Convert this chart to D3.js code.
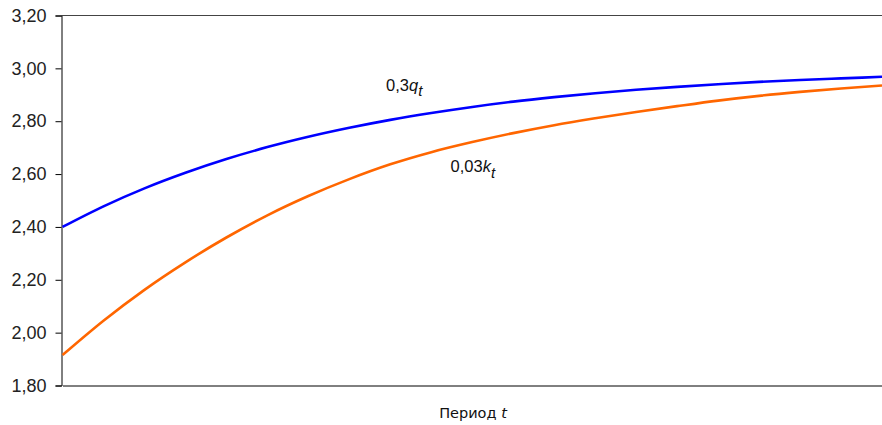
<!DOCTYPE html>
<html><head><meta charset="utf-8">
<script src="https://cdn.jsdelivr.net/npm/d3@7"></script>
<style>body{margin:0;background:#fff}svg{display:block}</style>
</head><body>
<svg id="c" width="882" height="425"></svg>
<script>
const periods = [0,5,10,15,20,25,30,35,40,45,50,55,60,65,70,75,80,85,90,95,100];
const seriesQ = [2.400,2.478,2.546,2.605,2.657,2.702,2.741,2.775,2.805,2.831,2.854,2.874,2.891,2.906,2.919,2.930,2.940,2.949,2.956,2.962,2.968];
const seriesK = [1.915,2.045,2.162,2.266,2.360,2.444,2.517,2.581,2.637,2.683,2.721,2.755,2.785,2.811,2.835,2.857,2.878,2.896,2.911,2.924,2.935];
const yTicks = [1.8,2.0,2.2,2.4,2.6,2.8,3.0,3.2];
const axisTitle = "Период ";

const svg = d3.select("#c");
const m = {l:61.5, r:882, t:15.5, b:385.5};
const x = d3.scaleLinear().domain([0,100]).range([m.l+1, m.r]);
const y = d3.scaleLinear().domain([1.8,3.2]).range([m.b, m.t]);
const fmt = v => d3.format(".2f")(v).replace(".", ",");

// top border
svg.append("line").attr("x1",m.l).attr("x2",m.r).attr("y1",m.t).attr("y2",m.t)
  .attr("stroke","#444").attr("stroke-width",1);

const ya = svg.append("g").attr("transform",`translate(${m.l},0)`)
  .call(d3.axisLeft(y).tickValues(yTicks).tickFormat(fmt).tickSize(6).tickPadding(9));
ya.select(".domain").attr("stroke","#000");
ya.selectAll(".tick line").attr("stroke","#000");
ya.selectAll(".tick text").attr("font-family","Liberation Sans, Arial, sans-serif")
  .attr("font-size","18px").attr("fill","#222");

const xa = svg.append("g").attr("transform",`translate(0,${m.b})`)
  .call(d3.axisBottom(x).tickValues([]).tickSizeOuter(0));
xa.select(".domain").attr("stroke","#000");

const line = d3.line().x((d,i)=>x(periods[i])).y(d=>y(d)).curve(d3.curveMonotoneX);
svg.append("path").datum(seriesK).attr("d",line).attr("fill","none")
  .attr("stroke","#FF6600").attr("stroke-width",2.6);
svg.append("path").datum(seriesQ).attr("d",line).attr("fill","none")
  .attr("stroke","#0000FF").attr("stroke-width",2.6);

const ff = "Liberation Sans, Arial, sans-serif";
const t1 = svg.append("text").attr("x",386).attr("y",90.5).attr("font-family",ff)
  .attr("font-size","16.5px").attr("fill","#111");
t1.append("tspan").text("0,3");
t1.append("tspan").attr("font-style","italic").text("q");
t1.append("tspan").attr("font-style","italic").attr("dy",5).attr("font-size","15px").text("t");

const t2 = svg.append("text").attr("x",450.5).attr("y",171.5).attr("font-family",ff)
  .attr("font-size","16.5px").attr("fill","#111");
t2.append("tspan").text("0,03");
t2.append("tspan").attr("font-style","italic").text("k");
t2.append("tspan").attr("font-style","italic").attr("dy",6).attr("font-size","15px").text("t");

const t3 = svg.append("text").attr("x",473).attr("y",418).attr("text-anchor","middle")
  .attr("font-family","DejaVu Sans, Verdana, sans-serif").attr("font-size","14.5px").attr("fill","#111");
t3.append("tspan").text(axisTitle);
t3.append("tspan").attr("font-style","italic").text("t");
</script>
</body></html>
